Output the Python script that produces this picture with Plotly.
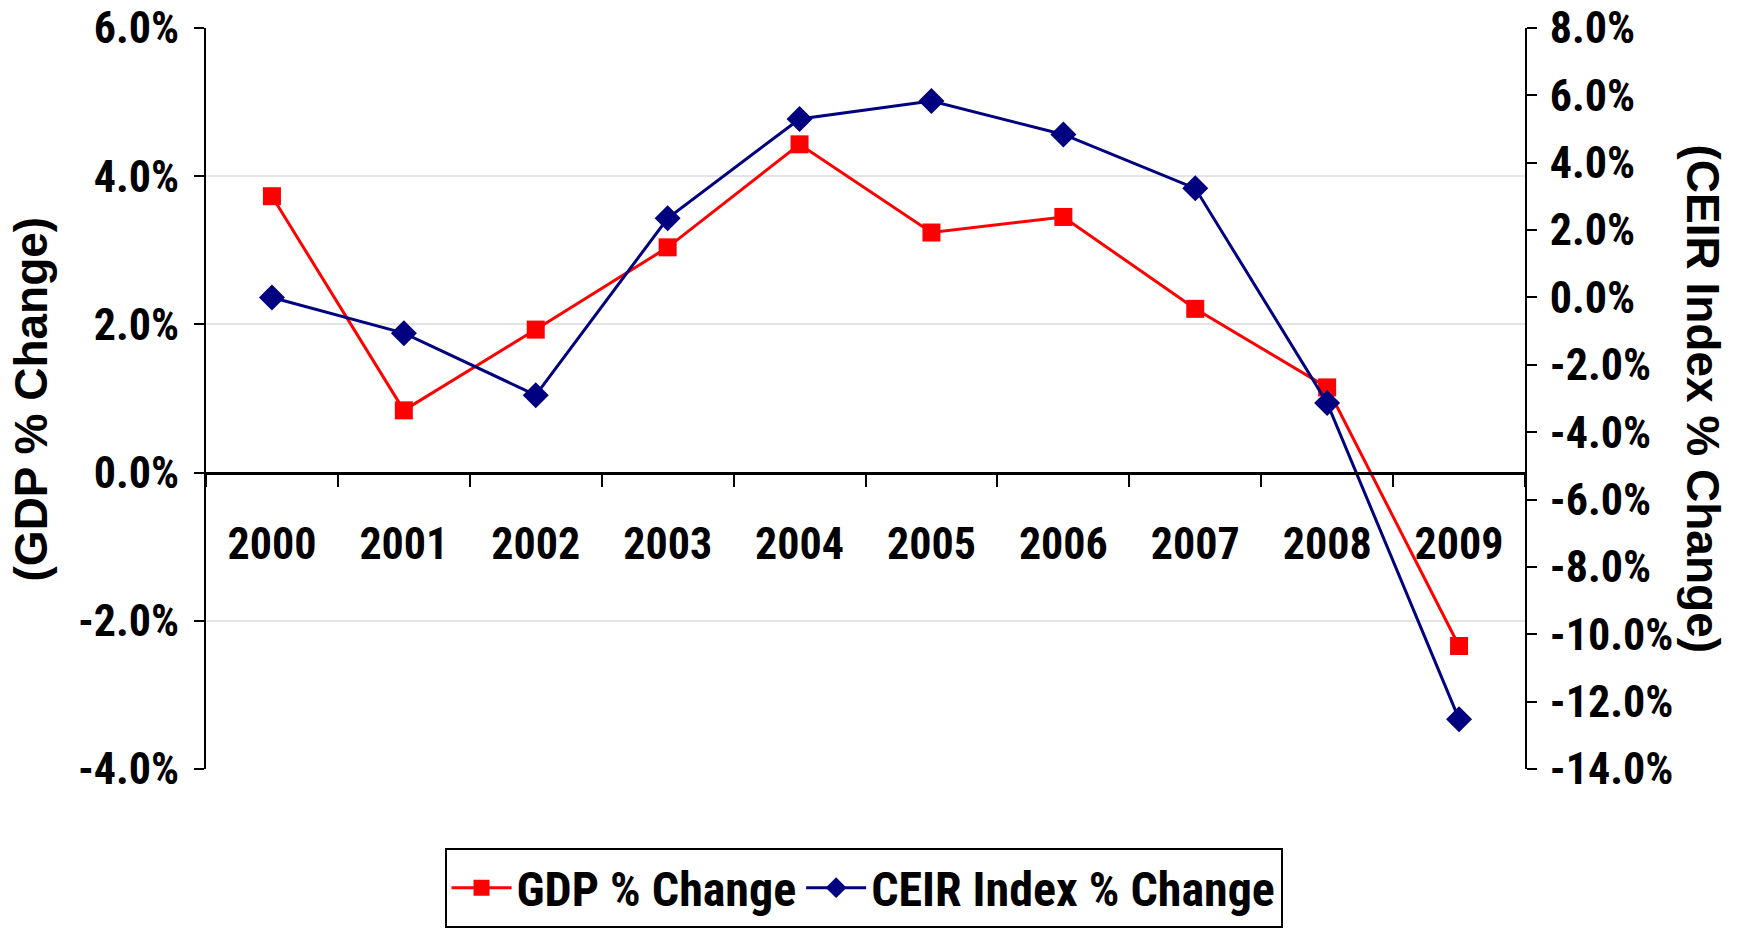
import plotly.graph_objects as go

# ---- data ----
years = ["2000", "2001", "2002", "2003", "2004", "2005", "2006", "2007", "2008", "2009"]
gdp_change = [3.73, 0.84, 1.93, 3.04, 4.43, 3.24, 3.45, 2.21, 1.15, -2.34]
ceir_change = [0.0, -1.06, -2.90, 2.35, 5.30, 5.83, 4.84, 3.24, -3.13, -12.52]

left_tick_vals = [-4, -2, 0, 2, 4, 6]
left_tick_labels = ["-4.0%", "-2.0%", "0.0%", "2.0%", "4.0%", "6.0%"]
right_tick_vals = [-14, -12, -10, -8, -6, -4, -2, 0, 2, 4, 6, 8]
right_tick_labels = ["-14.0%", "-12.0%", "-10.0%", "-8.0%", "-6.0%", "-4.0%",
                     "-2.0%", "0.0%", "2.0%", "4.0%", "6.0%", "8.0%"]

series_names = ["GDP % Change", "CEIR Index % Change"]
left_title = "(GDP % Change)"
right_title = "(CEIR Index % Change)"

NARROW = "Roboto Condensed, Liberation Sans Narrow, Arial Narrow, sans-serif"
WIDE = "Liberation Sans, Arial, sans-serif"
RED = "#FF0000"
NAVY = "#000080"

fig = go.Figure()
fig.add_trace(go.Scatter(
    x=years, y=gdp_change, name=series_names[0], mode="lines+markers",
    line=dict(color=RED, width=3),
    marker=dict(symbol="square", size=18, color=RED),
    yaxis="y", xaxis="x",
))
fig.add_trace(go.Scatter(
    x=years, y=ceir_change, name=series_names[1], mode="lines+markers",
    line=dict(color=NAVY, width=3),
    marker=dict(symbol="diamond", size=20, color=NAVY),
    yaxis="y2", xaxis="x",
))

left_range = [-4, 6]
right_range = [-14, 8]
zero_pos = (0 - left_range[0]) / (left_range[1] - left_range[0])

tickfont = dict(family=NARROW, size=44, color="black", weight=700)

fig.update_layout(
    width=1743, height=933,
    margin=dict(l=206, r=218, t=28, b=164),
    paper_bgcolor="white", plot_bgcolor="white",
    showlegend=True,
    xaxis=dict(
        type="category", range=[-0.5, 9.5],
        anchor="free", position=zero_pos, automargin=False,
        showline=True, linecolor="black", linewidth=3,
        ticks="outside", tickson="boundaries", ticklen=12, tickwidth=2, tickcolor="black",
        tickfont=tickfont, ticklabelstandoff=32, tickangle=0,
        showgrid=False, zeroline=False,
    ),
    xaxis2=dict(
        overlaying="x", anchor="free", position=zero_pos, automargin=False,
        range=[-0.5, 9.5], tickmode="array",
        tickvals=[i + 0.5 for i in range(len(years) - 1)],
        ticks="inside", ticklen=12, tickwidth=2, tickcolor="black",
        showticklabels=False, showline=False, showgrid=False, zeroline=False,
    ),
    yaxis=dict(
        range=left_range, tickmode="array", automargin=False,
        tickvals=left_tick_vals, ticktext=left_tick_labels,
        showline=True, linecolor="black", linewidth=2,
        ticks="outside", ticklen=10, tickwidth=2, tickcolor="black",
        tickfont=tickfont, ticklabelstandoff=6, ticklabeloverflow="allow",
        showgrid=True, gridcolor="#e4e4e4", gridwidth=1.5, zeroline=False,
    ),
    yaxis2=dict(
        range=right_range, overlaying="y", side="right", anchor="x", automargin=False,
        tickmode="array", tickvals=right_tick_vals, ticktext=right_tick_labels,
        showline=True, linecolor="black", linewidth=2,
        ticks="outside", ticklen=10, tickwidth=2, tickcolor="black",
        tickfont=tickfont, ticklabelstandoff=4, ticklabeloverflow="allow",
        showgrid=False, zeroline=False,
    ),
    yaxis3=dict(
        range=left_range, overlaying="y", side="left", anchor="free", position=0,
        automargin=False, tickmode="array", tickvals=left_tick_vals,
        ticks="inside", ticklen=8, tickwidth=2, tickcolor="black",
        showticklabels=False, showline=False, showgrid=False, zeroline=False,
    ),
    yaxis4=dict(
        range=right_range, overlaying="y", side="right", anchor="free", position=1,
        automargin=False, tickmode="array", tickvals=right_tick_vals,
        ticks="inside", ticklen=8, tickwidth=2, tickcolor="black",
        showticklabels=False, showline=False, showgrid=False, zeroline=False,
    ),
    legend=dict(
        orientation="h", x=0.4985, xanchor="center",
        yref="container", y=1 - 848 / 933, yanchor="top",
        bordercolor="black", borderwidth=2, bgcolor="white",
        font=dict(family=NARROW, size=48, color="black", weight=700),
        itemwidth=60,
    ),
    annotations=[
        dict(text=left_title, textangle=-90, xref="paper", yref="paper",
             x=-0.1327, y=0.5, xanchor="center", yanchor="middle", showarrow=False,
             font=dict(family=WIDE, size=46, color="black", weight=700)),
        dict(text=right_title, textangle=90, xref="paper", yref="paper",
             x=1.135, y=0.5, xanchor="center", yanchor="middle", showarrow=False,
             font=dict(family=WIDE, size=46, color="black", weight=700)),
    ],
)

fig.write_html(
    "out.html",
    config={"displayModeBar": False},
    post_script="document.body.style.margin='0';document.body.style.overflow='hidden';",
)
